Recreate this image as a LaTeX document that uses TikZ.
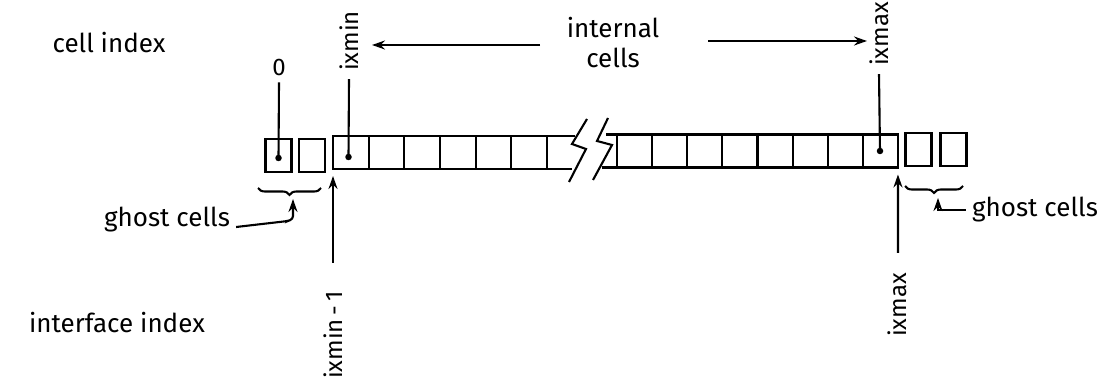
\documentclass[tikz,border=0pt]{standalone}
\usepackage{fontspec}
\setmainfont{Fira Sans}
\usetikzlibrary{arrows.meta,decorations.pathreplacing}
\tikzset{
  conn/.style={line width=2.1pt},
  arr/.style={conn,-{Stealth[length=13pt,width=9pt]}},
  cellbox/.style={draw,line width=2.1pt,minimum width=35.5pt,minimum height=33pt,inner sep=0pt,outer sep=0pt},
  ghostbox/.style={cellbox,minimum width=26pt},
  lbl/.style={font=\fontsize{26}{30}\selectfont,inner sep=0pt},
  idx/.style={font=\fontsize{24}{28}\selectfont,inner sep=0pt},
  dotmark/.style={circle,fill,inner sep=0pt,minimum size=6.5pt},
  bracedeco/.style={conn,decorate,decoration={brace,amplitude=7pt}}
}
\begin{document}
\begin{tikzpicture}[x=1pt,y=-1pt]
\useasboundingbox (0,0) rectangle (1111,387);
% ghost cells left
\node[ghostbox] (gl1) at (278.5,155.5) {};
\node[ghostbox] (gl2) at (312,155.5) {};
% internal cells left
\foreach \i in {1,...,6} {
  \node[cellbox,minimum width=35.67pt] (cl\i) at ({333+35.67*(\i-0.5)},152.5) {};
}
% internal cells right
\foreach \i in {1,...,8} {
  \node[cellbox,minimum width=35.12pt] (cr\i) at ({617+35.12*(\i-0.5)},151) {};
}
% ghost cells right
\node[ghostbox] (gr1) at (918.5,149.5) {};
\node[ghostbox] (gr2) at (953.5,149.5) {};
% partial cells at the break
\draw[conn] (cl6.north east) -- ++(28,0);
\draw[conn] (cl6.south east) -- ++(25,0);
\draw[conn] (cr1.north west) -- ++(-11,0);
\draw[conn] (cr1.south west) -- ++(-15,0);
% break bolts
\draw[conn] (587,119) -- (572,144) -- (586,149) -- (569,182);
\draw[conn] (608,118) -- (597,141) -- (612,145) -- (593,180);
% dots
\node[dotmark] (d0) at (278.5,158) {};
\node[dotmark] (dmin) at (348.5,157) {};
\node[dotmark] (dmax) at (880,151) {};
% cell index labels
\node[lbl,anchor=center] (cellidx) at (109,43) {cell index};
\node[idx] (l0) at (279,67) {0};
\node[idx,rotate=90] (lmin) at (349,41) {ixmin};
\node[idx,rotate=90] (lmax) at (879,34) {ixmax};
\draw[conn] (l0.south) ++(0,7) coordinate (l0s) -- (d0.center);
\draw[conn] (lmin.west) ++(0,8) coordinate (lmins) -- (dmin.center);
\draw[conn] (lmax.west) ++(0,8) coordinate (lmaxs) -- (dmax.center);
% internal cells
\node[lbl,align=center] (intl) at (613,43) {internal\\cells};
\coordinate (ia) at (540,45);
\coordinate (iae) at (372,45);
\coordinate (ib) at (708,41);
\coordinate (ibe) at (867,41);
\draw[arr] (ia) -- (iae);
\draw[arr] (ib) -- (ibe);
% braces
\draw[bracedeco] (321,188) -- (258,188);
\draw[bracedeco] (963,186) -- (905,186);
% ghost cells labels
\node[lbl] (ghl) at (167,220) {ghost cells};
\node[lbl] (ghr) at (1035,210) {ghost cells};
\draw[arr,rounded corners=3pt] (ghl.east) ++(6,7) coordinate (ghla) -- (288,221) -- (293,219) -- (293,199);
\draw[arr] (ghr.west) ++(-6,0) coordinate (ghra) -- (938,210) -- (938,198);
% interface index
\node[lbl] (ifidx) at (117,323) {interface index};
\node[idx,rotate=90] (lmin1) at (333,335) {ixmin\,-\,1};
\node[idx,rotate=90] (lmax1) at (897,305) {ixmax};
\draw[arr,shorten >=7pt] (333,263) coordinate (a1) -- (cl1.south west);
\draw[arr,shorten >=7pt] (898,253) coordinate (a2) -- (cr8.south east);
\end{tikzpicture}
\end{document}
